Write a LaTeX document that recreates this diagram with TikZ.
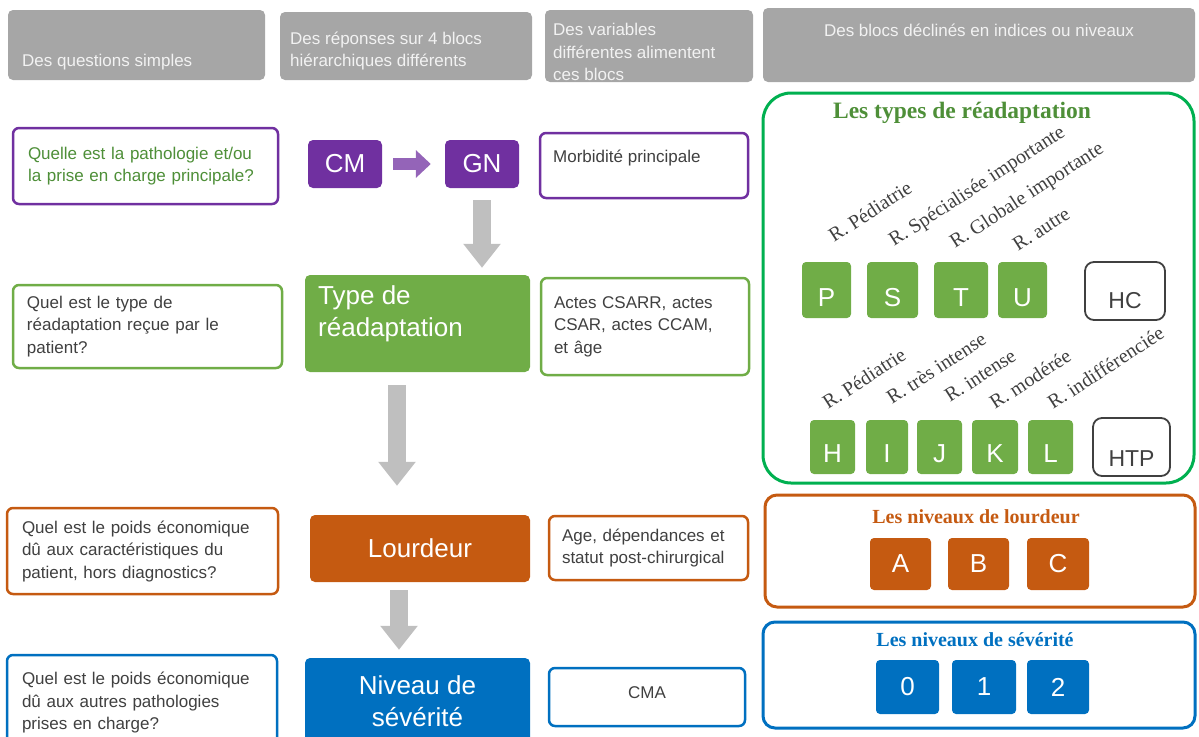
\documentclass[tikz,border=0pt]{standalone}
\usepackage{fontspec}
\setmainfont{Liberation Sans}
\newfontfamily\tnr{Liberation Serif}
\usetikzlibrary{arrows.meta}
\definecolor{cpurple}{HTML}{7030A0}
\definecolor{cgreen}{HTML}{70AD47}
\definecolor{cbgreen}{HTML}{00B050}
\definecolor{ctgreen}{HTML}{4E8F38}
\definecolor{corange}{HTML}{C55A11}
\definecolor{cblue}{HTML}{0070C0}
\definecolor{cgray}{HTML}{A6A6A6}
\definecolor{carrow}{HTML}{BFBFBF}
\definecolor{ctext}{HTML}{404040}
\definecolor{chead}{HTML}{F2F2F2}
\begin{document}
\begin{tikzpicture}[x=1pt,y=-1pt,
  body/.style={font=\fontsize{17pt}{22.5pt}\selectfont},
  hdr/.style={fill=cgray, rounded corners=5pt, inner sep=0pt},
  htxt/.style={body, text=chead, inner sep=0pt, align=left},
  qbox/.style={body, draw, line width=2.5pt, rounded corners=6pt, fill=white, align=left, inner ysep=0pt, text=ctext},
  vbox/.style={body, draw, line width=2.5pt, rounded corners=6pt, fill=white, inner sep=0pt, text=ctext},
  bigbox/.style={rounded corners=5pt, inner sep=0pt, text=white, align=center, font=\fontsize{26pt}{32pt}\selectfont},
  letter/.style={rounded corners=4pt, inner sep=0pt, text=white, font=\fontsize{26pt}{26pt}\selectfont},
  lowA/.style={text height=32.6pt, text depth=0pt},
  lowB/.style={text height=30.6pt, text depth=0pt},
  wbox/.style={draw=ctext, line width=1.8pt, rounded corners=9pt, fill=white, inner sep=0pt, text=ctext, font=\fontsize{23pt}{23pt}\selectfont, text depth=0pt},
  rlab/.style={font=\tnr\fontsize{20pt}{20pt}\selectfont, text=ctext, rotate=33, anchor=base west, inner sep=0pt},
  ttl/.style={font=\tnr\bfseries\fontsize{20pt}{20pt}\selectfont, inner sep=0pt},
  garrow/.style={draw=carrow, line width=18pt, -{Triangle[length=24pt,width=36pt]}},
  parrow/.style={draw=cpurple!75, line width=12pt, -{Triangle[length=15pt,width=27pt]}}
]
\useasboundingbox (0,0) rectangle (1199,736);

% headers
\node[hdr, minimum width=257pt, minimum height=70pt] (h1) at (136.5,45) {};
\node[hdr, minimum width=252pt, minimum height=68pt] (h2) at (406,46) {};
\node[hdr, minimum width=208pt, minimum height=72pt] (h3) at (649,46) {};
\node[hdr, minimum width=432pt, minimum height=74pt] (h4) at (979,45) {};
\node[htxt, anchor=west] (h1t) at (22,62) {Des questions simples};
\node[htxt, anchor=west] (h2t) at (290,51) {Des réponses sur 4 blocs\\hiérarchiques différents};
\node[htxt, anchor=west] (h3t) at (553,52) {Des variables\\différentes alimentent\\ces blocs};
\node[htxt, anchor=center] (h4t) at (979,30) {Des blocs déclinés en indices ou niveaux};

% questions
\node[qbox, draw=cpurple, text width=235pt, inner xsep=15pt, minimum height=76pt, text=ctgreen] (q1) at (145.5,166) {Quelle est la pathologie et/ou\\la prise en charge principale?};
\node[qbox, draw=cgreen, text width=241pt, inner xsep=14pt, minimum height=83pt] (q2) at (147.5,326.5) {Quel est le type de\\réadaptation reçue par le\\patient?};
\node[qbox, draw=corange, text width=241pt, inner xsep=15pt, minimum height=86pt] (q3) at (142.5,551) {Quel est le poids économique\\dû aux caractéristiques du\\patient, hors diagnostics?};
\node[qbox, draw=cblue, text width=240pt, inner xsep=15pt, minimum height=95pt] (q4) at (142,702.5) {Quel est le poids économique\\dû aux autres pathologies\\prises en charge?};

% middle blocks
\node[bigbox, fill=cpurple, minimum width=74pt, minimum height=48pt] (cm) at (345,164) {CM};
\node[bigbox, fill=cpurple, minimum width=74pt, minimum height=48pt] (gn) at (482,164) {GN};
\node[bigbox, fill=cgreen, minimum width=225pt, minimum height=97pt] (tr) at (417.5,323.5) {};
\node[inner sep=0pt, text=white, align=left, font=\fontsize{26pt}{32pt}\selectfont, anchor=west] (trt) at (318,314) {Type de\\réadaptation};
\node[bigbox, fill=corange, minimum width=220pt, minimum height=67pt] (lo) at (420,548.5) {Lourdeur};
\node[bigbox, fill=cblue, minimum width=225pt, minimum height=87pt] (ns) at (417.5,701.5) {Niveau de\\sévérité};

\draw[parrow, shorten <=11pt, shorten >=14pt] (cm) -- (gn);
\draw[garrow, shorten <=12pt, shorten >=7pt] (gn.south) -- (gn.south |- tr.north);
\draw[garrow, shorten <=13pt, shorten >=29pt] ([xshift=-20.5pt]tr.south) -- ([xshift=-20.5pt]tr.south |- lo.north);
\draw[garrow, shorten <=8pt, shorten >=8pt] ([xshift=-21pt]lo.south) -- ([xshift=-21pt]lo.south |- ns.north);

% variables
\node[vbox, draw=cpurple, minimum width=208pt, minimum height=65pt] (mb) at (644,165.5) {};
\node[body, text=ctext, inner sep=0pt, anchor=west] (mbt) at (553,158) {Morbidité principale};
\node[qbox, draw=cgreen, text width=182pt, inner xsep=13pt, minimum height=97pt] (ac) at (645,326.5) {Actes CSARR, actes\\CSAR, actes CCAM,\\et âge};
\node[qbox, draw=corange, text width=173pt, inner xsep=13pt, minimum height=64pt] (ag) at (648.5,548) {Age, dépendances et\\statut post-chirurgical};
\node[vbox, draw=cblue, minimum width=196pt, minimum height=58pt, text depth=0pt, text height=2pt] (cma) at (647,697) {CMA};

% types de readaptation
\node[draw=cbgreen, line width=3pt, rounded corners=28pt, minimum width=431pt, minimum height=390pt, inner sep=0pt] (gb) at (978.5,288) {};
\node[ttl, text=ctgreen, font=\tnr\bfseries\fontsize{23.5pt}{23.5pt}\selectfont] (gbt) at (962,113) {Les types de réadaptation};
\node[letter, lowA, fill=cgreen, minimum width=49pt, minimum height=56pt] (p) at (826.5,290) {P};
\node[letter, lowA, fill=cgreen, minimum width=51pt, minimum height=56pt] (s) at (892.5,290) {S};
\node[letter, lowA, fill=cgreen, minimum width=54pt, minimum height=56pt] (t) at (961,290) {T};
\node[letter, lowA, fill=cgreen, minimum width=49pt, minimum height=56pt] (u) at (1022.5,290) {U};
\node[wbox, text height=34.4pt, minimum width=80pt, minimum height=58pt] (hc) at (1125,291) {HC};
\node[rlab] (lp) at (834,243) {R. Pédiatrie};
\node[rlab] (ls) at (894,247) {R. Spécialisée importante};
\node[rlab] (lt) at (955,249) {R. Globale importante};
\node[rlab] (lu) at (1018,252) {R. autre};

\node[letter, lowB, fill=cgreen, minimum width=45pt, minimum height=54pt] (h) at (832.5,447) {H};
\node[letter, lowB, fill=cgreen, minimum width=42pt, minimum height=54pt] (i) at (887,447) {I};
\node[letter, lowB, fill=cgreen, minimum width=45pt, minimum height=54pt] (j) at (939.5,447) {J};
\node[letter, lowB, fill=cgreen, minimum width=46pt, minimum height=54pt] (k) at (995,447) {K};
\node[letter, lowB, fill=cgreen, minimum width=45pt, minimum height=54pt] (l) at (1050.5,447) {L};
\node[wbox, text height=38.4pt, minimum width=77pt, minimum height=58pt] (htp) at (1131.5,447) {HTP};
\node[rlab] (lh) at (828,410) {R. Pédiatrie};
\node[rlab] (li) at (892,405) {R. très intense};
\node[rlab] (lj) at (950,403) {R. intense};
\node[rlab] (lk) at (995,410) {R. modérée};
\node[rlab] (ll) at (1053,410) {R. indifférenciée};

% lourdeur
\node[draw=corange, line width=3pt, rounded corners=12pt, minimum width=430pt, minimum height=112pt, inner sep=0pt] (ob) at (980,551) {};
\node[ttl, text=corange] (obt) at (976,517) {Les niveaux de lourdeur};
\node[letter, fill=corange, minimum width=61pt, minimum height=52pt] (a) at (900.5,564) {A};
\node[letter, fill=corange, minimum width=61pt, minimum height=52pt] (b) at (978.5,564) {B};
\node[letter, fill=corange, minimum width=62pt, minimum height=52pt] (c) at (1058,564) {C};

% severite
\node[draw=cblue, line width=3pt, rounded corners=12pt, minimum width=432pt, minimum height=106pt, inner sep=0pt] (bb) at (979,675) {};
\node[ttl, text=cblue] (bbt) at (975,640) {Les niveaux de sévérité};
\node[letter, fill=cblue, minimum width=63pt, minimum height=54pt] (n0) at (907.5,687) {0};
\node[letter, fill=cblue, minimum width=64pt, minimum height=54pt] (n1) at (984,687) {1};
\node[letter, fill=cblue, minimum width=62pt, minimum height=54pt] (n2) at (1058,687) {2};
\end{tikzpicture}
\end{document}
